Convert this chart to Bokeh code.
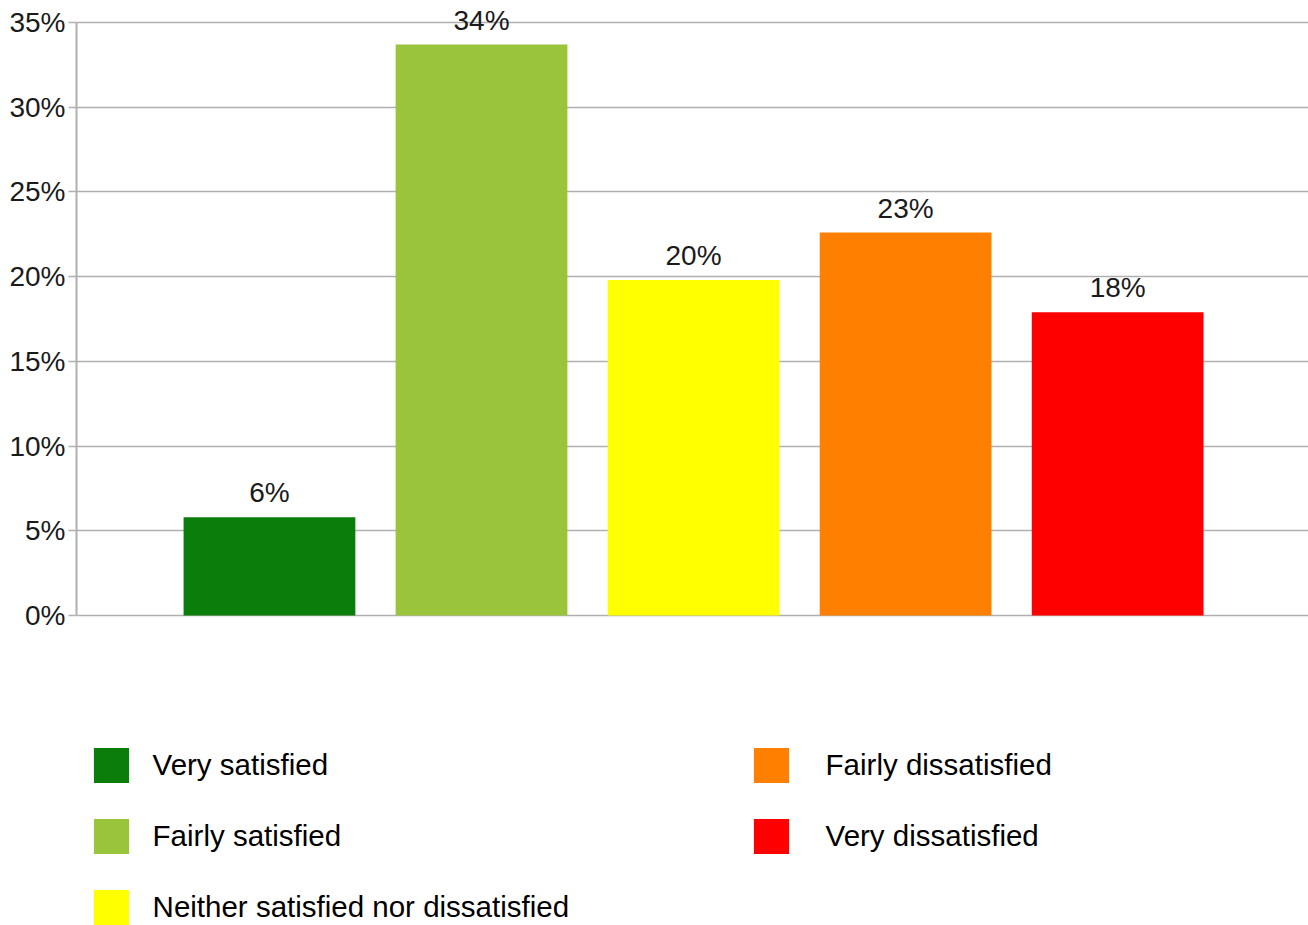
from bokeh.plotting import figure
from bokeh.models import (ColumnDataSource, FixedTicker, PrintfTickFormatter,
                          Legend, LegendItem, Range1d)
from bokeh.core.properties import value
from bokeh.embed import file_html
from bokeh.resources import INLINE

categories = ["Very satisfied", "Fairly satisfied", "Neither satisfied nor dissatisfied",
              "Fairly dissatisfied", "Very dissatisfied"]
values = [5.8, 33.7, 19.8, 22.6, 17.9]
colors = ["#0b7d0b", "#99c43c", "#ffff00", "#ff8000", "#ff0000"]
y_ticks = [0, 5, 10, 15, 20, 25, 30, 35]

FONT = "Liberation Sans"

src = ColumnDataSource(dict(
    x=list(range(len(categories))),
    top=values,
    color=colors,
    label=[f"{round(v)}%" for v in values],
    cat=categories,
))

# frame spans the whole canvas height; the lower part hosts the legend
p = figure(width=1308, height=925, output_backend="svg", toolbar_location=None,
           x_range=Range1d(-0.91, 4.9), y_range=Range1d(-18.3, 36.3),
           x_axis_location=None, min_border_left=76, min_border_right=0,
           min_border_top=0, min_border_bottom=0)
p.outline_line_color = None
p.xgrid.grid_line_color = None
p.ygrid.grid_line_color = "#b0b0b0"
p.ygrid.grid_line_width = 1.4
p.ygrid.ticker = FixedTicker(ticks=y_ticks)

ax = p.yaxis[0]
ax.bounds = (0, 35)
ax.ticker = FixedTicker(ticks=y_ticks)
ax.formatter = PrintfTickFormatter(format="%d%%")
ax.axis_line_color = "#b0b0b0"
ax.axis_line_width = 2
ax.major_tick_line_color = "#b0b0b0"
ax.major_tick_line_width = 1.4
ax.major_tick_out = 8
ax.major_tick_in = 0
ax.minor_tick_line_color = None
ax.major_label_text_font = FONT
ax.major_label_text_font_size = "28px"
ax.major_label_text_color = "#1a1a1a"
ax.major_label_standoff = 3

bars = p.vbar(x="x", top="top", bottom=0, width=0.81, fill_color="color",
              line_color=None, source=src)

p.text(x="x", y="top", text="label", source=src, text_align="center",
       text_baseline="bottom", y_offset=-9, text_font=value(FONT),
       text_font_size="28px", text_color="#1a1a1a")

items1 = [LegendItem(label=categories[i], renderers=[bars], index=i) for i in range(3)]
items2 = [LegendItem(label=categories[i], renderers=[bars], index=i) for i in range(3, 5)]

for items, loc, standoff in ((items1, (12.6, -9), 20), (items2, (672.6, 61.6), 33)):
    lg = Legend(items=items, location=loc, glyph_width=44, glyph_height=44,
                label_standoff=standoff, spacing=17, padding=0, margin=0,
                border_line_color=None, background_fill_alpha=0,
                label_text_font=FONT, label_text_font_size="29.5px",
                label_text_color="#000000", label_height=54)
    p.add_layout(lg, "center")

open("out.html", "w").write(file_html(p, INLINE))
